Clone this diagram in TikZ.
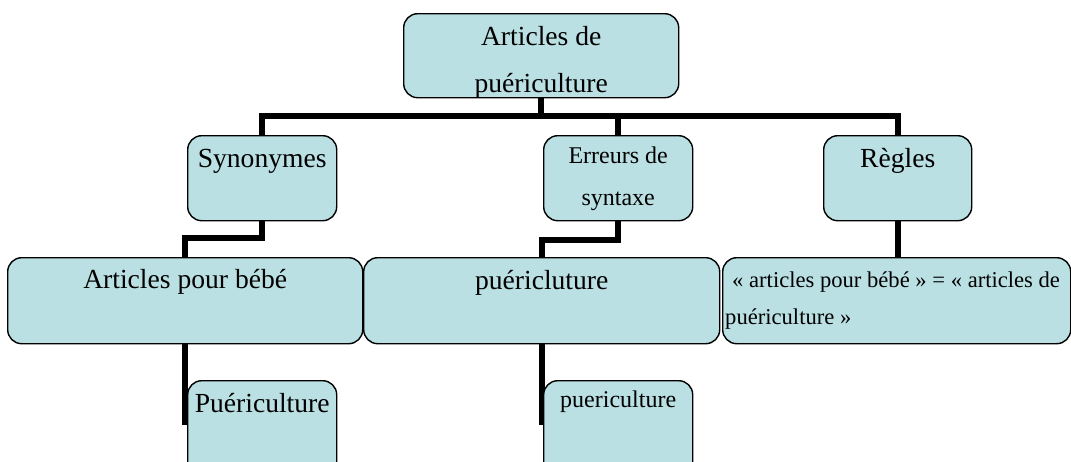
\documentclass[tikz,border=0pt]{standalone}
\usepackage{fontspec}
\setmainfont{Liberation Serif}
\usetikzlibrary{calc,backgrounds}
\definecolor{boxblue}{RGB}{186,224,227}
\tikzset{
  box/.style={draw=black, line width=1.4pt, fill=boxblue, rounded corners=14pt,
    inner sep=0pt, anchor=north west, rectangle},
  conn/.style={draw=black, line width=6pt, line join=miter},
  big/.style={inner sep=0pt, anchor=base, font=\fontsize{27.6}{33}\selectfont},
  small/.style={inner sep=0pt, anchor=base, font=\fontsize{24}{29}\selectfont},
  rulefont/.style={inner sep=0pt, anchor=base west, font=\fontsize{22.6}{27}\selectfont},
}
\begin{document}
\begin{tikzpicture}[x=1pt,y=-1pt]
\useasboundingbox (0,0) rectangle (1071,461);
% boxes
\node[box, minimum width=275pt, minimum height=84pt] (top) at (403,13) {};
\node[box, minimum width=149pt, minimum height=85pt] (syn) at (187,135) {};
\node[box, minimum width=149pt, minimum height=85pt] (err) at (543,135) {};
\node[box, minimum width=148pt, minimum height=85pt] (reg) at (823,135) {};
\node[box, minimum width=355pt, minimum height=86pt] (apb) at (7,257) {};
\node[box, minimum width=356pt, minimum height=86pt] (puer) at (363,257) {};
\node[box, minimum width=348pt, minimum height=86pt] (rule) at (722,257) {};
\node[box, minimum width=149pt, minimum height=100pt] (pu) at (187,380) {};
\node[box, minimum width=149pt, minimum height=100pt] (pue) at (543,380) {};
% texts
\begin{scope}
  \clip[rounded corners=14pt] (top.south west) rectangle (top.north east);
  \node[big] (toptxt1) at ($(top.north)+(0,32)$) {Articles de};
  \node[big] (toptxt2) at ($(top.north)+(0,79)$) {puériculture};
\end{scope}
\node[big] (syntxt) at ($(syn.north)+(0,32)$) {Synonymes};
\node[small] (errtxt1) at ($(err.north)+(0,28)$) {Erreurs de};
\node[small] (errtxt2) at ($(err.north)+(0,70)$) {syntaxe};
\node[big] (regtxt) at ($(reg.north)+(0,32)$) {Règles};
\node[big] (apbtxt) at ($(apb.north)+(0,31)$) {Articles pour bébé};
\node[big] (puertxt) at ($(puer.north)+(0,32)$) {puéricluture};
\node[rulefont] (ruletxt1) at (732,287) {« articles pour bébé » = « articles de};
\node[rulefont] (ruletxt2) at (725,324) {puériculture »};
\node[big] (putxt) at ($(pu.north)+(0,32)$) {Puériculture};
\node[small] (puetxt) at ($(pue.north)+(0,27)$) {puericulture};
% connectors
\coordinate (bus) at (0,116);
\coordinate (m1) at (0,238);
\coordinate (m2) at (0,240);
\coordinate (e1) at (0,425);
\begin{scope}[on background layer]
  \draw[conn] (top.south) -- (top.south |- bus);
  \draw[conn] (syn.north) -- (syn.north |- bus) -- (reg.north |- bus) -- (reg.north);
  \draw[conn] (err.north) -- (err.north |- bus);
  \draw[conn] (syn.south) -- (syn.south |- m1) -- (apb.north |- m1) -- (apb.north);
  \draw[conn] (err.south) -- (err.south |- m2) -- (puer.north |- m2) -- (puer.north);
  \draw[conn] (reg.south) -- (rule.north -| reg.south);
  \draw[conn] (apb.south) -- (apb.south |- e1);
  \draw[conn] (puer.south) -- (puer.south |- e1);
\end{scope}
\end{tikzpicture}
\end{document}
